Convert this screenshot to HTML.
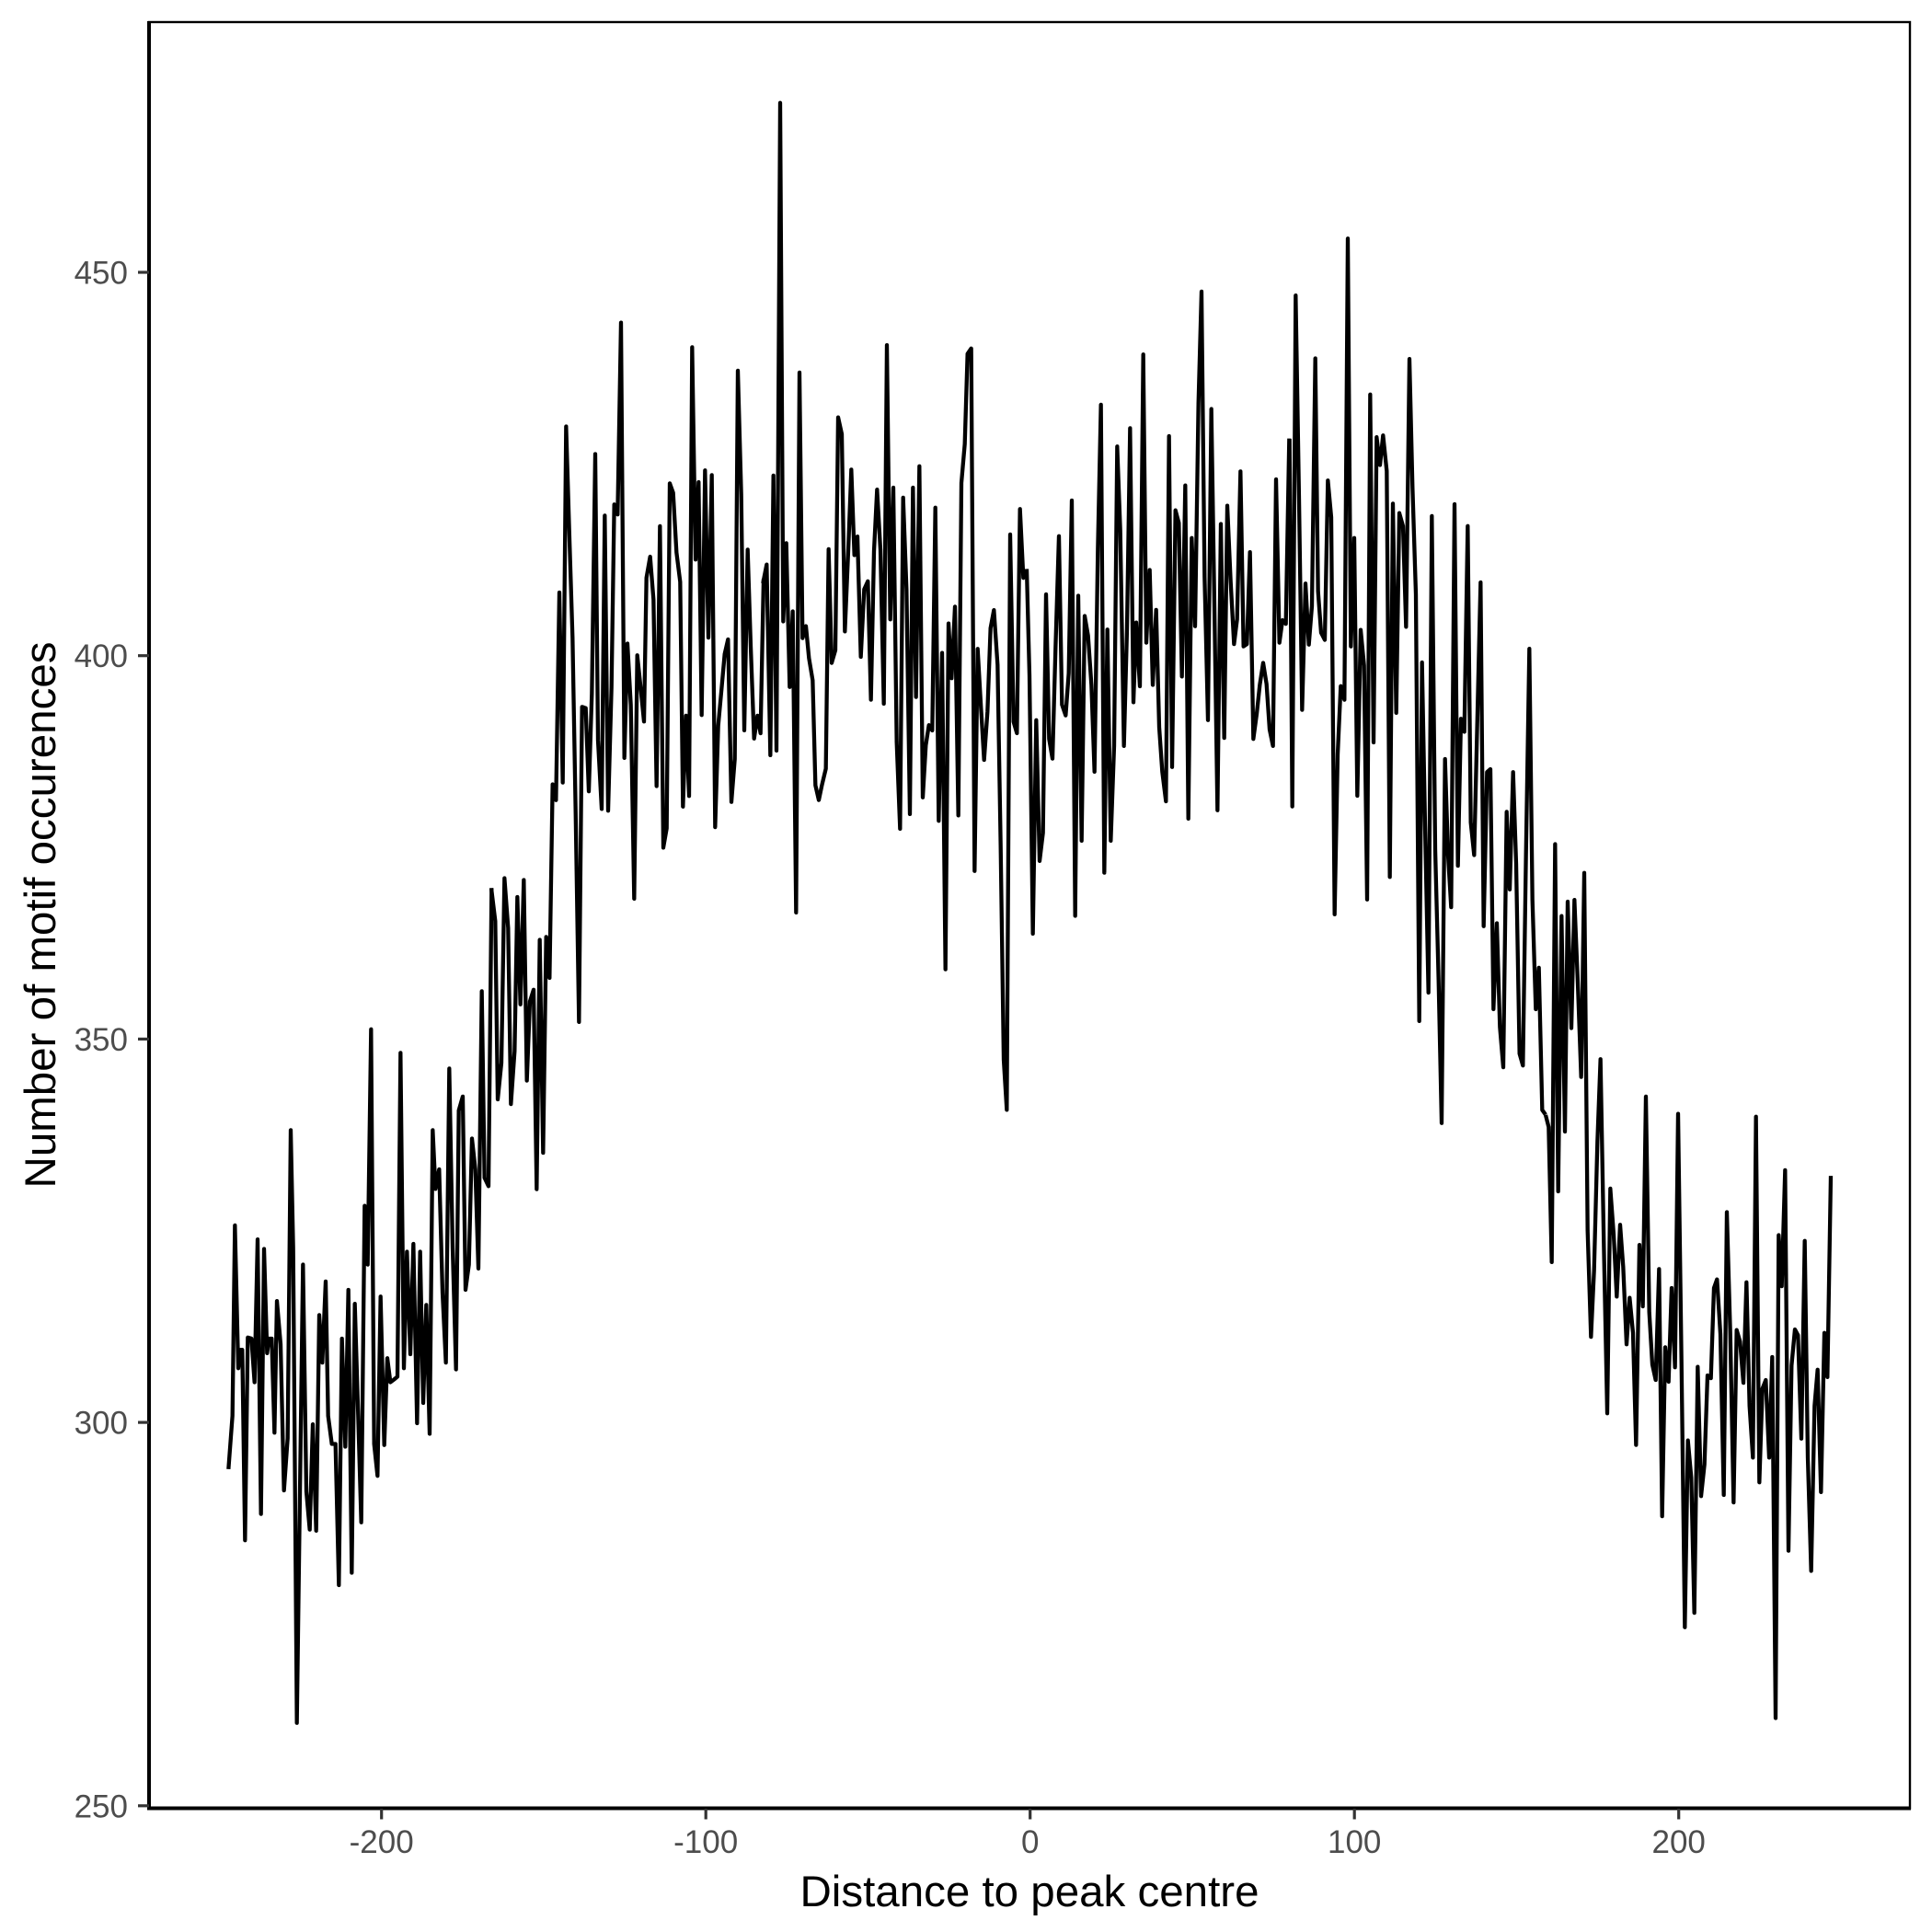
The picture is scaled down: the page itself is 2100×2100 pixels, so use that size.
<!DOCTYPE html>
<html>
<head>
<meta charset="utf-8">
<style>
  html, body { margin: 0; padding: 0; background: #ffffff; }
  svg { display: block; }
  .ser { fill: none; stroke: #000000; stroke-width: 4.3; stroke-linejoin: round; stroke-linecap: butt; vector-effect: non-scaling-stroke; }
  .tl { font-family: "Liberation Sans", "DejaVu Sans", sans-serif; font-size: 35px; fill: #4D4D4D; }
  .tt { font-family: "Liberation Sans", "DejaVu Sans", sans-serif; font-size: 47.5px; fill: #000000; }
</style>
</head>
<body>
<svg width="2100" height="2100" viewBox="0 0 2100 2100" xmlns="http://www.w3.org/2000/svg">
  <rect x="0" y="0" width="2100" height="2100" fill="#ffffff"/>

  <!-- series -->
  <g transform="translate(240,930) scale(0.333333,0.609013)">
    <polyline class="ser" points="25,1095 38,1000 46,660 57,915 65,882 70,882 79,1222 88,860 100,862 110,940 120,685 131,1175 141,702 151,888 157,862 166,862 175,1030 183,795 195,872 206,1133 218,1040 228,490 236,700 248,1548 268,730 279,1135 290,1203 300,1015 311,1205 321,820 331,905 342,760 350,1000 362,1050 374,1050 385,1302 395,862 406,1055 416,775 427,1280 437,800 448,1000 458,1190 469,625 479,730 490,310 500,1050 511,1107 521,787 533,1052 543,897 553,940 565,935 576,930 586,352 597,915 607,707 618,890 628,693 640,1013 650,707 660,977 670,802 681,1032 691,490 700,595 712,560 723,780 734,905 745,380 756,700 767,917 776,455 789,430 798,775 809,730 819,505 830,560 840,737 851,242 860,575 873,590 883,58"/>
  </g>
  <g transform="translate(530,320) scale(0.333333,0.637755)">
    <polyline class="ser" points="12,1012 25,1068 33,1372 45,1310 55,995 67,1080 76,1380 88,1290 97,1027 107,1210 118,998 128,1340 138,1205 150,1185 160,1525 170,1100 181,1463 191,1095 202,1165 212,835 223,862 234,508 245,832 256,225 266,400 277,585 287,880 298,1240 308,703 320,705 330,847 340,680 351,272 360,760 372,877 382,377 393,880 404,670 413,358 424,375 435,48 446,790 456,595 467,700 478,1030 488,615 499,670 510,728 518,483 530,447 541,520 551,838 562,395 573,943 584,910 594,322 605,338 616,440 628,490 637,873 647,718 657,855 667,90 678,452 688,320 698,717 709,300 720,585 731,308 742,908 752,735 763,672 773,613 784,588 795,865 806,792 816,130 827,340 837,743 848,435 858,600 869,757 880,718 890,748 900,485"/>
  </g>
  <g transform="translate(820,90) scale(0.333333,0.727273)">
    <polyline class="ser" points="28,748 40,720 52,1005 62,587 72,998 84,30 94,805 104,688 115,903 125,790 136,1240 147,433 157,830 168,812 178,860 190,893 199,1050 210,1072 220,1050 233,1025 242,697 252,867 264,848 273,500 285,525 295,820 306,700 316,578 326,706 336,678 347,858 358,757 370,745 380,922 390,700 400,608 411,698 422,928 432,392 443,802 453,605 464,985 475,1115 485,620 496,757 507,1093 517,605 527,918 538,573 549,1068 559,990 569,960 580,968 590,635 601,1103 612,852 623,1325 633,808 643,890 654,783 665,1095 675,598 686,540 695,405 707,397 718,1178 728,846 739,935 749,1012 760,940 770,815 781,788 793,870 803,1140 813,1460 823,1535 834,675 845,955 856,972 866,637 877,740 888,730"/>
  </g>
  <g transform="translate(1110,270) scale(0.333333,0.510204)">
    <polyline class="ser" points="18,683 27,910 38,1460 49,1005 60,1305 71,1245 81,737 91,1045 102,1087 112,850 123,613 133,972 145,995 155,905 165,537 176,1422 186,740 197,1262 207,783 218,825 229,930 239,1115 250,640 260,333 271,1330 281,812 292,1262 303,1060 313,422 323,600 335,1060 345,810 355,383 366,967 375,797 387,933 398,226 408,840 419,685 429,930 440,770 450,1020 460,1115 472,1178 482,400 492,1105 503,558 514,585 524,912 535,505 545,1215 556,617 567,805 578,330 588,92 598,700 609,1005 620,342 630,762 640,1197 651,587 662,1043 672,548 683,710 694,843 704,790 715,475 725,848 736,843 746,647 757,1045 768,992 778,930 789,883 800,928 810,1025 821,1060 831,492 842,840 852,792 863,800 874,405"/>
  </g>
  <g transform="translate(1400,240) scale(0.333333,0.644330)">
    <polyline class="ser" points="5,368 14,988 25,126 36,470 46,825 57,612 68,715 78,650 89,232 98,625 108,695 120,707 130,438 141,500 152,1170 162,900 172,785 184,808 195,30 205,718 216,535 226,970 237,690 248,750 258,1145 268,293 279,880 289,365 300,412 310,362 322,422 332,1107 342,477 353,830 363,493 375,515 385,685 396,233 406,450 417,630 428,1350 437,745 447,1020 458,1302 469,498 480,1060 491,1280 501,1522 512,908 522,1070 532,1158 543,478 554,1088 564,840 575,862 586,515 596,1015 607,1070 617,850 628,610 638,1190 649,930 660,925 670,1330 681,1185 691,1360 702,1428 713,997 723,1128 734,930 744,1085 755,1405 766,1425 776,1070 787,722 797,1145 808,1330 818,1260 829,1500 840,1508"/>
  </g>
  <g transform="translate(1680,900) scale(0.333333,0.625)">
    <polyline class="ser" points="0,499 10,520 20,755 31,28 41,632 52,153 63,528 72,128 84,348 94,125 105,270 116,433 126,78 137,700 148,885 158,770 169,545 179,402 190,727 201,1018 211,627 222,707 232,815 243,690 253,763 264,898 274,817 285,878 295,1073 306,725 317,832 327,467 338,842 348,933 359,960 370,767 380,1197 390,903 401,963 411,800 422,938 432,497 443,925 454,1390 464,1065 475,1130 485,1365 496,937 507,1162 518,1107 528,952 539,957 549,800 559,785 570,880 581,1160 591,668 602,875 613,1173 623,873 634,893 645,965 655,790 665,1005 676,1095 686,502 697,1138 707,975 718,960 729,1095 739,920 750,1548 760,708 770,797 781,595 792,1257 802,935 813,872 823,882 834,1062 845,718 855,1095 866,1292 877,1005 887,942 898,1155 909,878 919,955 930,605"/>
  </g>

  <!-- panel border -->
  <rect x="162" y="24" width="1914" height="1941.5" fill="none" stroke="#000000" stroke-width="2.4"/>
  <!-- axis lines -->
  <line x1="162" y1="23" x2="162" y2="1967.5" stroke="#000000" stroke-width="4"/>
  <line x1="160" y1="1965.5" x2="2077" y2="1965.5" stroke="#000000" stroke-width="4"/>

  <!-- y ticks -->
  <g stroke="#333333" stroke-width="3.2">
    <line x1="150" y1="296" x2="162" y2="296"/>
    <line x1="150" y1="712.7" x2="162" y2="712.7"/>
    <line x1="150" y1="1129.4" x2="162" y2="1129.4"/>
    <line x1="150" y1="1546.1" x2="162" y2="1546.1"/>
    <line x1="150" y1="1962.8" x2="162" y2="1962.8"/>
  </g>
  <!-- x ticks -->
  <g stroke="#333333" stroke-width="3.2">
    <line x1="414.7" y1="1966" x2="414.7" y2="1977.5"/>
    <line x1="767.2" y1="1966" x2="767.2" y2="1977.5"/>
    <line x1="1119.7" y1="1966" x2="1119.7" y2="1977.5"/>
    <line x1="1472.2" y1="1966" x2="1472.2" y2="1977.5"/>
    <line x1="1824.7" y1="1966" x2="1824.7" y2="1977.5"/>
  </g>

  <!-- y tick labels -->
  <g class="tl" text-anchor="end">
    <text x="139" y="308.5">450</text>
    <text x="139" y="725.2">400</text>
    <text x="139" y="1141.9">350</text>
    <text x="139" y="1558.6">300</text>
    <text x="139" y="1975.3">250</text>
  </g>
  <!-- x tick labels -->
  <g class="tl" text-anchor="middle">
    <text x="414.7" y="2014">-200</text>
    <text x="767.2" y="2014">-100</text>
    <text x="1119.7" y="2014">0</text>
    <text x="1472.2" y="2014">100</text>
    <text x="1824.7" y="2014">200</text>
  </g>

  <!-- axis titles -->
  <text class="tt" x="1119" y="2072" text-anchor="middle">Distance to peak centre</text>
  <text class="tt" transform="translate(60,994.5) rotate(-90)" text-anchor="middle">Number of motif occurences</text>
</svg>
</body>
</html>
